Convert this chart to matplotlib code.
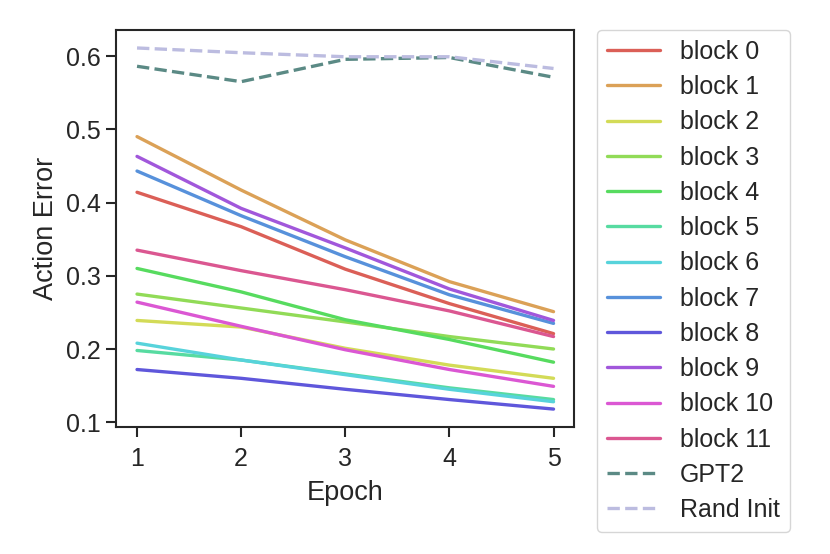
import matplotlib
matplotlib.use("Agg")
import matplotlib.pyplot as plt
import seaborn as sns

# Data
epochs = [1, 2, 3, 4, 5]
block_labels = [f"block {i}" for i in range(12)]
block_errors = [
    [0.414, 0.367, 0.309, 0.262, 0.221],  # block 0
    [0.490, 0.417, 0.349, 0.292, 0.251],  # block 1
    [0.239, 0.230, 0.201, 0.178, 0.160],  # block 2
    [0.275, 0.256, 0.237, 0.217, 0.200],  # block 3
    [0.310, 0.278, 0.240, 0.213, 0.182],  # block 4
    [0.198, 0.185, 0.166, 0.147, 0.131],  # block 5
    [0.208, 0.185, 0.165, 0.145, 0.128],  # block 6
    [0.443, 0.382, 0.326, 0.274, 0.235],  # block 7
    [0.172, 0.160, 0.145, 0.131, 0.118],  # block 8
    [0.463, 0.392, 0.338, 0.282, 0.239],  # block 9
    [0.264, 0.231, 0.199, 0.172, 0.149],  # block 10
    [0.335, 0.307, 0.281, 0.252, 0.217],  # block 11
]
gpt2_errors = [0.586, 0.565, 0.5955, 0.598, 0.571]
rand_init_errors = [0.611, 0.6045, 0.599, 0.599, 0.583]

sns.set_theme(style="ticks")
plt.rcParams['font.family'] = ['Liberation Sans', 'DejaVu Sans']

colors = sns.color_palette("hls", 12)

fig, ax = plt.subplots(figsize=(8.3, 5.54), dpi=100)
fig.subplots_adjust(left=0.14, right=0.692, bottom=0.229, top=0.946)

for label, errs, c in zip(block_labels, block_errors, colors):
    ax.plot(epochs, errs, color=c, lw=2.4, label=label)
ax.plot(epochs, gpt2_errors, '--', color='#5b8a85', lw=2.4, label='GPT2')
ax.plot(epochs, rand_init_errors, '--', color='#bcbce0', lw=2.4, label='Rand Init')

ax.set_xticks(epochs)
ax.set_yticks([0.1, 0.2, 0.3, 0.4, 0.5, 0.6])
ax.set_xlabel('Epoch', fontsize=19.5, labelpad=7)
ax.set_ylabel('Action Error', fontsize=19.5, labelpad=5)
ax.tick_params(labelsize=18, length=7, width=1.5, pad=4)
ax.tick_params(axis='x', pad=7)
for s in ax.spines.values():
    s.set_linewidth(1.5)
    s.set_color('#262626')

ax.legend(loc='upper left', bbox_to_anchor=(1.05, 1.0), fontsize=18,
          borderaxespad=0, handlelength=2.1, labelspacing=0.45)

plt.savefig('out.png', dpi=100)
